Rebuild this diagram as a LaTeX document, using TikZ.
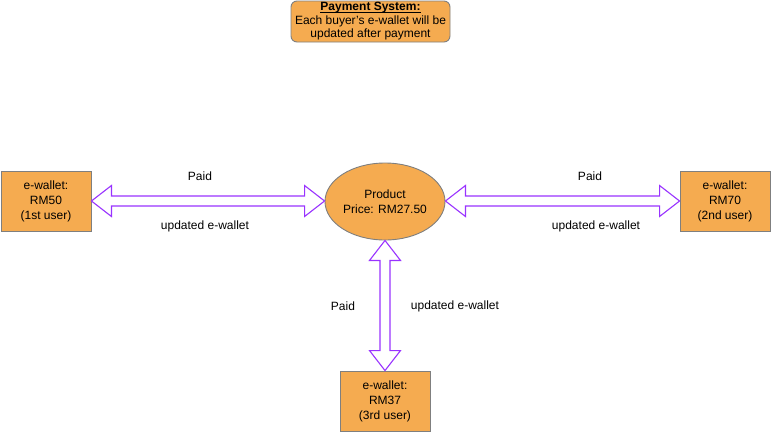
\documentclass[tikz,border=0pt]{standalone}
\usepackage{fontspec}
\setmainfont{Liberation Sans}
\usetikzlibrary{calc,shapes.geometric}
\definecolor{boxfill}{HTML}{F5AB50}
\definecolor{boxline}{HTML}{7F7F7F}
\definecolor{arrowline}{HTML}{9933FF}
\tikzset{
  wallet/.style={draw=boxline, fill=boxfill, line width=0.9pt, minimum width=90pt, minimum height=60pt, inner sep=0pt, align=center, font=\fontsize{12}{15}\selectfont},
  product/.style={draw=boxline, fill=boxfill, line width=0.9pt, ellipse, minimum width=120pt, minimum height=77pt, inner sep=0pt, align=center, font=\fontsize{12}{15}\selectfont},
  titlebox/.style={draw=boxline, fill=boxfill, line width=0.9pt, rounded corners=6pt, minimum width=159pt, minimum height=41pt, inner sep=0pt},
  titletext/.style={inner sep=0pt, anchor=base, font=\fontsize{12}{13.5}\selectfont},
  dbl/.style={draw=arrowline, fill=white, line width=1.1pt, line join=miter},
  lbl/.style={font=\fontsize{12}{14}\selectfont, inner sep=0pt}
}
\begin{document}
\begin{tikzpicture}[x=1pt,y=-1pt]
\useasboundingbox (0,0) rectangle (771,432);
\node[titlebox] (title) at (370.5,21.5) {};
\node[titletext] (t1) at (370.5,10.5) {\textbf{Payment System:}};
\node[titletext] (t2) at (370.5,24) {Each buyer's e-wallet will be};
\node[titletext] (t3) at (370.5,37.5) {updated after payment};
\draw[line width=0.9pt] ($(t1.base west)+(0,-1.8pt)$) -- ($(t1.base east)+(0,-1.8pt)$);
\node[wallet] (w1) at (46,201) {e-wallet:\\RM50\\(1st user)};
\node[wallet] (w2) at (725,201) {e-wallet:\\RM70\\(2nd user)};
\node[wallet] (w3) at (385,401) {e-wallet:\\RM37\\(3rd user)};
\node[product] (prod) at (385,201.5) {Product\\Price: RM27.50};
% horizontal double arrows
\draw[dbl] let \p1=(w1.east), \p2=(prod.west) in
  (\x1,\y1) -- (\x1+20pt,\y1+15.5pt) -- (\x1+20pt,\y1+5pt) -- (\x2-20pt,\y1+5pt) -- (\x2-20pt,\y1+15.5pt) -- (\x2,\y1)
  -- (\x2-20pt,\y1-15.5pt) -- (\x2-20pt,\y1-5pt) -- (\x1+20pt,\y1-5pt) -- (\x1+20pt,\y1-15.5pt) -- cycle;
\draw[dbl] let \p1=(prod.east), \p2=(w2.west) in
  (\x1,\y2) -- (\x1+20pt,\y2+15.5pt) -- (\x1+20pt,\y2+5pt) -- (\x2-20pt,\y2+5pt) -- (\x2-20pt,\y2+15.5pt) -- (\x2,\y2)
  -- (\x2-20pt,\y2-15.5pt) -- (\x2-20pt,\y2-5pt) -- (\x1+20pt,\y2-5pt) -- (\x1+20pt,\y2-15.5pt) -- cycle;
% vertical double arrow
\draw[dbl] let \p1=(prod.south), \p2=(w3.north) in
  (\x1,\y1) -- (\x1+15.5pt,\y1-20pt) -- (\x1+5pt,\y1-20pt) -- (\x1+5pt,\y2+20pt) -- (\x1+15.5pt,\y2+20pt) -- (\x1,\y2)
  -- (\x1-15.5pt,\y2+20pt) -- (\x1-5pt,\y2+20pt) -- (\x1-5pt,\y1-20pt) -- (\x1-15.5pt,\y1-20pt) -- cycle;
% labels
\node[lbl] (l1) at (200,176) {Paid};
\node[lbl] (l2) at (205,226) {updated e-wallet};
\node[lbl] (l3) at (590,176) {Paid};
\node[lbl] (l4) at (596,226) {updated e-wallet};
\node[lbl] (l5) at (343,306) {Paid};
\node[lbl] (l6) at (455,306) {updated e-wallet};
\end{tikzpicture}
\end{document}
